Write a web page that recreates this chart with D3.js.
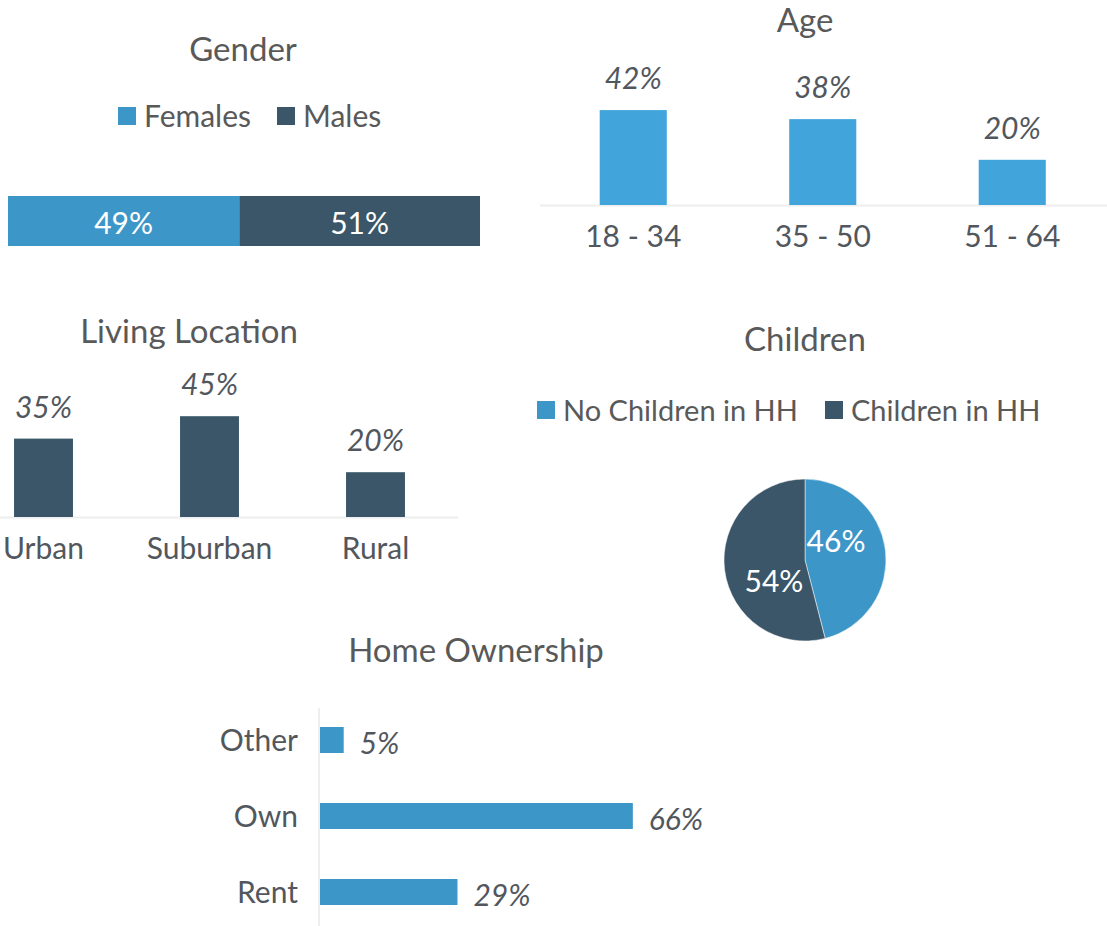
<!DOCTYPE html>
<html>
<head>
<meta charset="utf-8">
<script src="https://cdn.jsdelivr.net/npm/d3@7"></script>
<style>
  html, body { margin: 0; padding: 0; background: #fff; }
  svg { display: block; font-family: Lato, "Open Sans", sans-serif; }
</style>
</head>
<body>
<svg id="chart" width="1107" height="926"></svg>
<script>
// gender
const genderKeys = ["Females", "Males"];
const genderValues = [49, 51];

// age
const ageCategories = ["18 - 34", "35 - 50", "51 - 64"];
const ageValues = [42, 38, 20];

// living location
const locationCategories = ["Urban", "Suburban", "Rural"];
const locationValues = [35, 45, 20];

// children
const childrenKeys = ["No Children in HH", "Children in HH"];
const childrenValues = [46, 54];

// home ownership
const homeCategories = ["Other", "Own", "Rent"];
const homeValues = [5, 66, 29];

const LIGHT = "#3d96c8";
const AGE_BLUE = "#41a5dc";
const DARK = "#3a5668";
const TITLE_COLOR = "#595959";
const LABEL_COLOR = "#52575e";
const AXIS_COLOR = "#eeeeee";
const TITLE_SIZE = 33;
const TEXT_SIZE = 30;

const svg = d3.select("#chart");
const pct = v => v + "%";

function title(x, y, text) {
  svg.append("text")
    .attr("x", x).attr("y", y)
    .attr("text-anchor", "middle")
    .attr("font-size", TITLE_SIZE)
    .attr("fill", TITLE_COLOR)
    .text(text);
}

function legend(items, y, size) {
  // items: [{x, color, label}]
  items.forEach(d => {
    svg.append("rect")
      .attr("x", d.x).attr("y", y - 9)
      .attr("width", 18).attr("height", 18)
      .attr("fill", d.color);
    svg.append("text")
      .attr("x", d.x + 26).attr("y", y - 1)
      .attr("dominant-baseline", "central")
      .attr("font-size", size)
      .attr("fill", TITLE_COLOR)
      .text(d.label);
  });
}

// ---------- Gender ----------
title(243, 61, "Gender");
legend([
  { x: 118, color: LIGHT, label: genderKeys[0] },
  { x: 277, color: DARK, label: genderKeys[1] }
], 116, 30);

const gx = d3.scaleLinear().domain([0, 100]).range([8, 480]);
const genderStack = d3.stack().keys(genderKeys)([
  Object.fromEntries(genderKeys.map((k, i) => [k, genderValues[i]]))
]);
const gColor = d3.scaleOrdinal().domain(genderKeys).range([LIGHT, DARK]);

const gg = svg.append("g");
genderStack.forEach((s, i) => {
  const seg = s[0];
  gg.append("rect")
    .attr("x", gx(seg[0])).attr("y", 196)
    .attr("width", gx(seg[1]) - gx(seg[0])).attr("height", 50)
    .attr("fill", gColor(s.key));
  gg.append("text")
    .attr("x", (gx(seg[0]) + gx(seg[1])) / 2).attr("y", 222)
    .attr("text-anchor", "middle")
    .attr("dominant-baseline", "central")
    .attr("font-size", TEXT_SIZE)
    .attr("fill", "#ffffff")
    .text(pct(genderValues[i]));
});

// ---------- Vertical bar helper ----------
function columnChart(opts) {
  const x = d3.scaleBand()
    .domain(opts.categories)
    .range(opts.xRange)
    .paddingInner(opts.pad)
    .paddingOuter(opts.pad / 2);
  const y = d3.scaleLinear().domain([0, 100]).range([opts.base, opts.base - opts.h100]);
  const g = svg.append("g");

  g.append("line")
    .attr("x1", opts.axis[0]).attr("x2", opts.axis[1])
    .attr("y1", opts.base + 0.5).attr("y2", opts.base + 0.5)
    .attr("stroke", AXIS_COLOR).attr("stroke-width", 2);

  g.selectAll("rect.bar")
    .data(opts.values)
    .join("rect")
    .attr("class", "bar")
    .attr("x", (d, i) => x(opts.categories[i]))
    .attr("y", d => y(d))
    .attr("width", x.bandwidth())
    .attr("height", d => y(0) - y(d))
    .attr("fill", opts.color);

  g.selectAll("text.val")
    .data(opts.values)
    .join("text")
    .attr("class", "val")
    .attr("x", (d, i) => x(opts.categories[i]) + x.bandwidth() / 2)
    .attr("y", d => y(d) - 21)
    .attr("text-anchor", "middle")
    .attr("font-size", TEXT_SIZE)
    .attr("font-style", "italic")
    .attr("fill", LABEL_COLOR)
    .text(pct);

  g.selectAll("text.cat")
    .data(opts.categories)
    .join("text")
    .attr("class", "cat")
    .attr("x", d => x(d) + x.bandwidth() / 2)
    .attr("y", opts.base + 42)
    .attr("text-anchor", "middle")
    .attr("font-size", TEXT_SIZE)
    .attr("fill", LABEL_COLOR)
    .text(d => d);
}

// ---------- Age ----------
title(805, 32, "Age");
columnChart({
  categories: ageCategories,
  values: ageValues,
  xRange: [538.5, 1107],
  pad: 0.646,
  base: 205,
  h100: 226,
  axis: [540, 1107],
  color: AGE_BLUE
});

// ---------- Living Location ----------
title(189, 343, "Living Location");
columnChart({
  categories: locationCategories,
  values: locationValues,
  xRange: [-39.5, 458.5],
  pad: 0.645,
  base: 517,
  h100: 224,
  axis: [0, 458],
  color: DARK
});

// ---------- Children ----------
title(805, 351, "Children");
legend([
  { x: 537, color: LIGHT, label: childrenKeys[0] },
  { x: 825, color: DARK, label: childrenKeys[1] }
], 410, 29);

const pie = d3.pie().sort(null).value(d => d)(childrenValues);
const radius = 81;
const arc = d3.arc().innerRadius(0).outerRadius(radius);
const pColor = d3.scaleOrdinal().domain([0, 1]).range([LIGHT, DARK]);
const pg = svg.append("g").attr("transform", "translate(805,560)");
pg.selectAll("path")
  .data(pie)
  .join("path")
  .attr("d", arc)
  .attr("fill", (d, i) => pColor(i))
  .attr("stroke", "#ffffff")
  .attr("stroke-width", 0.5);
// labels sit a little counter-clockwise of each slice centre, like the original
const labelPos = d => {
  const a = (d.startAngle + d.endAngle) / 2 - 0.45;
  return [Math.sin(a) * 37, -Math.cos(a) * 37];
};
pg.selectAll("text")
  .data(pie)
  .join("text")
  .attr("transform", d => `translate(${labelPos(d)})`)
  .attr("text-anchor", "middle")
  .attr("dominant-baseline", "central")
  .attr("font-size", TEXT_SIZE)
  .attr("fill", "#ffffff")
  .text(d => pct(d.data));

// ---------- Home Ownership ----------
title(476, 662, "Home Ownership");
const hy = d3.scaleBand()
  .domain(homeCategories)
  .range([702, 930])
  .paddingInner(0.658)
  .paddingOuter(0.329);
const hx = d3.scaleLinear().domain([0, 100]).range([320, 320 + 474]);
const hg = svg.append("g");
hg.append("line")
  .attr("x1", 319).attr("x2", 319)
  .attr("y1", 708).attr("y2", 926)
  .attr("stroke", AXIS_COLOR).attr("stroke-width", 2);
hg.selectAll("rect")
  .data(homeValues)
  .join("rect")
  .attr("x", hx(0))
  .attr("y", (d, i) => hy(homeCategories[i]))
  .attr("width", d => hx(d) - hx(0))
  .attr("height", hy.bandwidth())
  .attr("fill", LIGHT);
hg.selectAll("text.val")
  .data(homeValues)
  .join("text")
  .attr("class", "val")
  .attr("x", d => hx(d) + 16)
  .attr("y", (d, i) => hy(homeCategories[i]) + hy.bandwidth() / 2 + 2)
  .attr("dominant-baseline", "central")
  .attr("font-size", TEXT_SIZE)
  .attr("font-style", "italic")
  .attr("fill", LABEL_COLOR)
  .text(pct);
hg.selectAll("text.cat")
  .data(homeCategories)
  .join("text")
  .attr("class", "cat")
  .attr("x", 298)
  .attr("y", d => hy(d) + hy.bandwidth() / 2 - 1)
  .attr("text-anchor", "end")
  .attr("dominant-baseline", "central")
  .attr("font-size", TEXT_SIZE)
  .attr("fill", LABEL_COLOR)
  .text(d => d);
</script>
</body>
</html>
